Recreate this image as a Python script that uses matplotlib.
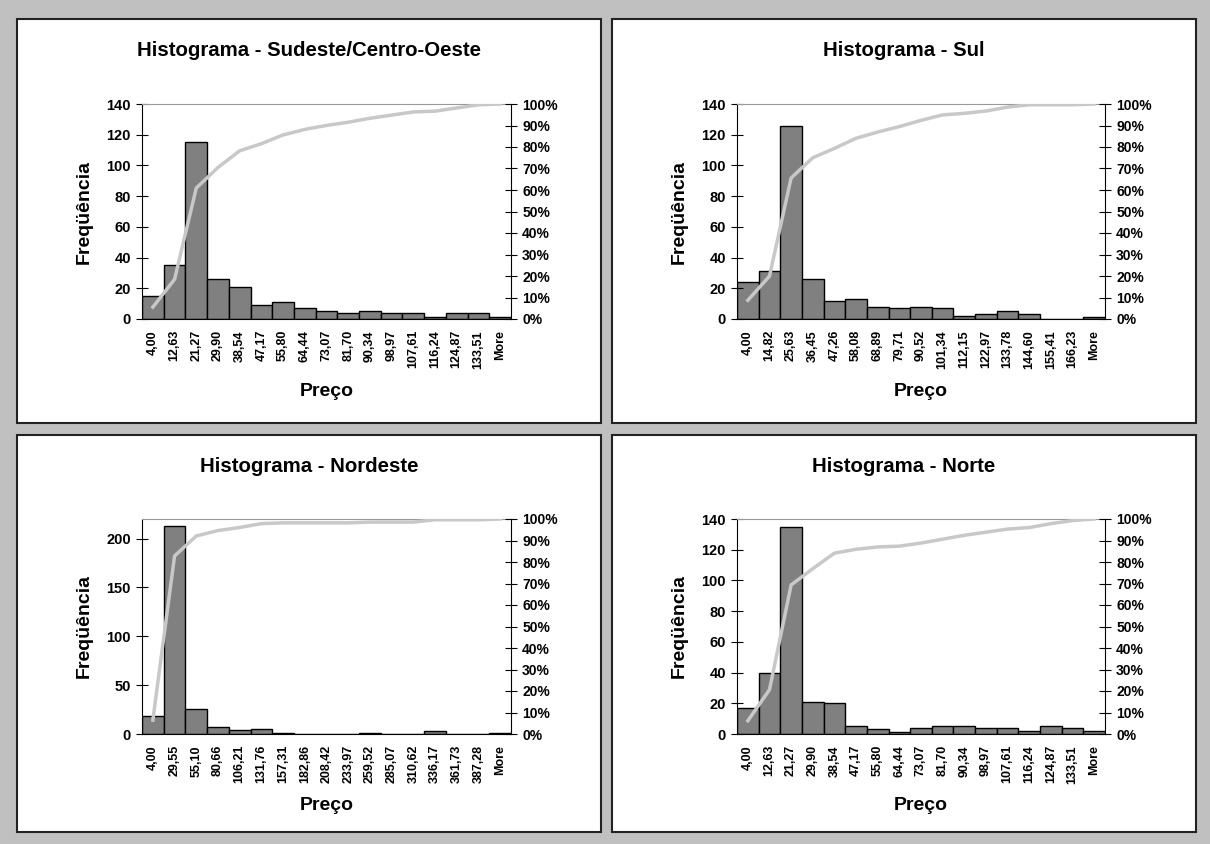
import numpy as np
import matplotlib
matplotlib.use('Agg')
import matplotlib.pyplot as plt
from matplotlib.patches import Rectangle

plt.rcParams['font.family'] = ['Liberation Sans', 'DejaVu Sans']
plt.rcParams['font.weight'] = 'bold'

# Data
titles = ['Histograma - Sudeste/Centro-Oeste', 'Histograma - Sul',
          'Histograma - Nordeste', 'Histograma - Norte']

bins_se = ['4,00', '12,63', '21,27', '29,90', '38,54', '47,17', '55,80', '64,44',
           '73,07', '81,70', '90,34', '98,97', '107,61', '116,24', '124,87', '133,51', 'More']
bins_sul = ['4,00', '14,82', '25,63', '36,45', '47,26', '58,08', '68,89', '79,71',
            '90,52', '101,34', '112,15', '122,97', '133,78', '144,60', '155,41', '166,23', 'More']
bins_ne = ['4,00', '29,55', '55,10', '80,66', '106,21', '131,76', '157,31', '182,86',
           '208,42', '233,97', '259,52', '285,07', '310,62', '336,17', '361,73', '387,28', 'More']
bins_n = bins_se

freq_se = [15, 35, 115, 26, 21, 9, 11, 7, 5, 4, 5, 4, 4, 1, 4, 4, 1]
freq_sul = [24, 31, 126, 26, 12, 13, 8, 7, 8, 7, 2, 3, 5, 3, 0, 0, 1]
freq_ne = [18, 213, 26, 7, 4, 5, 1, 0, 0, 0, 1, 0, 0, 3, 0, 0, 1]
freq_n = [17, 40, 135, 21, 20, 5, 3, 1, 4, 5, 5, 4, 4, 2, 5, 4, 2]

ymax = [140, 140, 220, 140]
yticks = [range(0, 141, 20), range(0, 141, 20), range(0, 201, 50), range(0, 141, 20)]

W, H = 1210, 844
fig = plt.figure(figsize=(W / 100, H / 100), dpi=100)
fig.patch.set_facecolor('#c0c0c0')

# panel boxes (pixels: x0, y0, x1, y1) and plot areas
panels = [(17, 19, 601, 423), (612, 19, 1196, 423),
          (17, 435, 601, 832), (612, 435, 1196, 832)]
plots = [(142, 104, 511, 319), (737, 104, 1105, 319),
         (142, 519, 511, 734), (737, 519, 1105, 734)]

datasets = [(bins_se, freq_se), (bins_sul, freq_sul), (bins_ne, freq_ne), (bins_n, freq_n)]

for i, (labels, freq) in enumerate(datasets):
    px0, py0, px1, py1 = panels[i]
    fig.patches.append(Rectangle((px0 / W, 1 - py1 / H), (px1 - px0) / W, (py1 - py0) / H,
                                 transform=fig.transFigure, facecolor='white',
                                 edgecolor='#222222', linewidth=1.5, zorder=-10))
    fig.text((px0 + px1) / 2 / W, 1 - 51 / H if i < 2 else 1 - 466 / H, titles[i],
             ha='center', va='center', fontsize=14.7, fontweight='bold')

    x0, y0, x1, y1 = plots[i]
    ax = fig.add_axes([x0 / W, 1 - y1 / H, (x1 - x0) / W, (y1 - y0) / H], zorder=5)
    ax.set_facecolor('none')
    x = np.arange(len(freq))
    ax.bar(x, freq, width=1.0, color='#808080', edgecolor='black', linewidth=1)
    ax.set_xlim(-0.5, len(freq) - 0.5)
    ax.set_ylim(0, ymax[i])
    ax.set_yticks(list(yticks[i]))
    ax.set_xticks(x)
    ax.set_xticklabels(labels, rotation=90, fontsize=9, fontweight='bold')
    ax.tick_params(axis='x', length=0, pad=8)
    ax.tick_params(axis='y', direction='inout', length=8, labelsize=10.5, pad=4)
    ax.spines['top'].set_color('#999999')
    ax.spines['right'].set_visible(False)
    ax.set_ylabel('Freqüência', fontsize=14, fontweight='bold', labelpad=10)
    ax.set_xlabel('Preço', fontsize=14, fontweight='bold', labelpad=10)

    ax2 = ax.twinx()
    cum = np.cumsum(freq) / np.sum(freq)
    ax2.plot(x, cum, color='#c8c8c8', linewidth=2.5)
    ax2.set_ylim(0, 1)
    ax2.set_yticks(np.linspace(0, 1, 11))
    ax2.set_yticklabels([f'{p}%' for p in range(0, 101, 10)])
    ax2.tick_params(axis='y', direction='inout', length=8, labelsize=10, pad=4)
    for s in ['top', 'left', 'bottom']:
        ax2.spines[s].set_visible(False)

fig.savefig('out.png', dpi=100, facecolor=fig.get_facecolor())
